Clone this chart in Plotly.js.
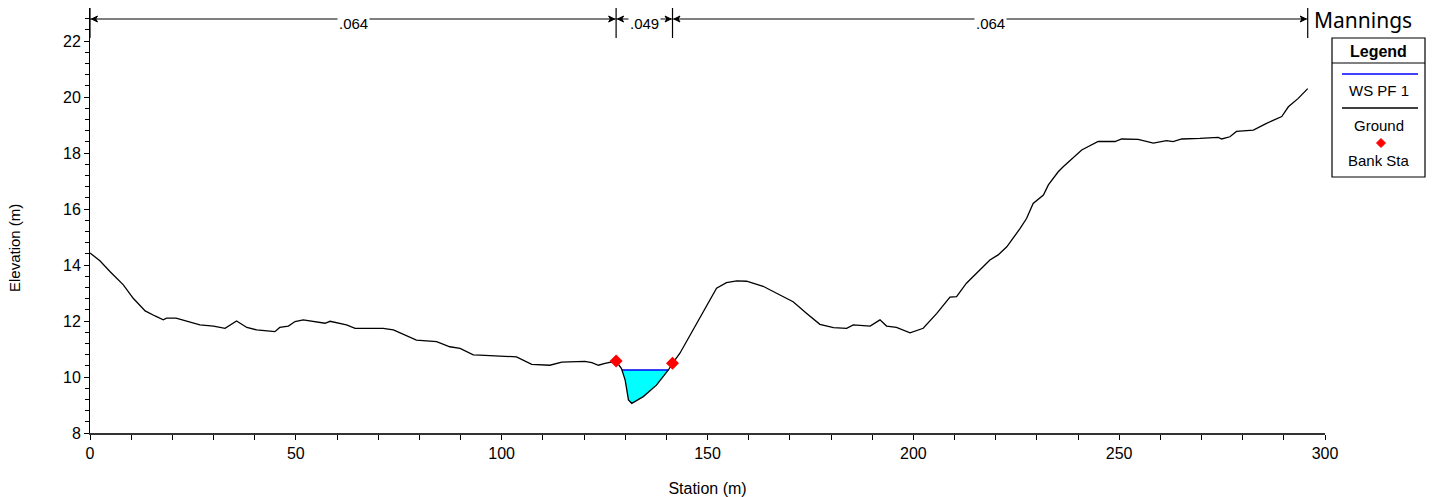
<!DOCTYPE html>
<html>
<head>
<meta charset="utf-8">
<script src="https://cdn.plot.ly/plotly-3.0.1.min.js"></script>
<style>html,body{margin:0;padding:0;background:#fff;}#chart{width:1442px;height:497px;}</style>
</head>
<body>
<div id="chart"></div>
<script>
// ---- data ----
const station = [0, 2.4, 4.9, 8.1, 10.5, 13.4, 15.8, 17.8, 18.6, 20.9, 26.7, 30.0, 32.8, 35.6, 38.1, 40.5, 44.9, 46.1, 48.2, 49.8, 51.8, 57.1, 58.3, 62.3, 64.4, 71.2, 73.7, 79.3, 84.2, 87.4, 89.9, 93.1, 94.7, 103.6, 107.3, 111.7, 114.6, 120.2, 121.9, 123.5, 125.1, 127.8, 129.1, 130.0, 130.8, 131.6, 134.4, 137.6, 140.5, 141.5, 143.3, 146.5, 149.8, 152.2, 154.6, 157.1, 159.5, 163.5, 167.6, 170.8, 174.1, 177.3, 180.6, 183.8, 185.4, 189.5, 191.9, 193.5, 195.9, 199.2, 202.4, 205.7, 208.9, 210.5, 212.9, 216.2, 218.6, 220.6, 222.7, 225.9, 227.5, 229.1, 231.6, 232.8, 235.2, 236.4, 240.9, 244.9, 249.0, 250.6, 254.6, 258.3, 261.5, 263.1, 265.2, 269.6, 274.1, 274.9, 276.9, 278.5, 282.6, 285.8, 289.5, 291.1, 293.5, 295.8];
const elevation = [14.43, 14.15, 13.76, 13.29, 12.81, 12.36, 12.18, 12.04, 12.10, 12.10, 11.86, 11.82, 11.74, 12.00, 11.77, 11.68, 11.62, 11.77, 11.82, 11.98, 12.04, 11.92, 11.99, 11.86, 11.74, 11.74, 11.68, 11.32, 11.26, 11.08, 11.02, 10.79, 10.78, 10.72, 10.45, 10.42, 10.53, 10.56, 10.51, 10.42, 10.49, 10.57, 10.30, 9.89, 9.18, 9.06, 9.30, 9.71, 10.25, 10.49, 10.85, 11.68, 12.51, 13.17, 13.37, 13.43, 13.42, 13.24, 12.93, 12.69, 12.27, 11.88, 11.76, 11.74, 11.86, 11.82, 12.04, 11.82, 11.77, 11.58, 11.74, 12.27, 12.85, 12.87, 13.35, 13.82, 14.18, 14.36, 14.65, 15.30, 15.66, 16.20, 16.50, 16.86, 17.33, 17.51, 18.11, 18.41, 18.41, 18.50, 18.49, 18.35, 18.44, 18.41, 18.50, 18.52, 18.56, 18.50, 18.58, 18.77, 18.82, 19.06, 19.30, 19.65, 19.95, 20.30];
const bankStation = [127.8, 141.5];
const bankElevation = [10.57, 10.49];
const wsElevation = 10.25;
const manningValues = [".064", ".049", ".064"];
const manningBreaks = [0, 127.8, 141.5, 295.8];
const xTickVals = [0, 50, 100, 150, 200, 250, 300];
const yTickVals = [8, 10, 12, 14, 16, 18, 20, 22];

// ---- water polygon from ground & WS ----
function interpX(i) {
  const x0 = station[i], x1 = station[i+1], y0 = elevation[i], y1 = elevation[i+1];
  return x0 + (wsElevation - y0) * (x1 - x0) / (y1 - y0);
}
const iL = station.findIndex(s => s >= bankStation[0]);
const iR = station.findIndex(s => s >= bankStation[1]);
let wx = [], wy = [];
let xLeft = null, xRight = null;
for (let i = iL; i < iR; i++) {
  const a = elevation[i] - wsElevation, b = elevation[i+1] - wsElevation;
  if (a > 0 && b <= 0 && xLeft === null) { xLeft = interpX(i); wx.push(xLeft); wy.push(wsElevation); }
  if (elevation[i+1] < wsElevation && xLeft !== null) { wx.push(station[i+1]); wy.push(elevation[i+1]); }
  if (a < 0 && b >= 0 && xLeft !== null) { xRight = (b === 0) ? station[i+1] : interpX(i); wx.push(xRight); wy.push(wsElevation); break; }
}
wx.push(xLeft); wy.push(wsElevation);

const traces = [
  {x: wx, y: wy, type: 'scatter', mode: 'lines', fill: 'toself', fillcolor: '#00FFFF', line: {width: 0, color: '#00FFFF'}, hoverinfo: 'skip', showlegend: false},
  {x: [xLeft, xRight], y: [wsElevation, wsElevation], type: 'scatter', mode: 'lines', name: 'WS PF 1', line: {color: '#0000FF', width: 1.6}, showlegend: false},
  {x: station, y: elevation, type: 'scatter', mode: 'lines', name: 'Ground', line: {color: '#000000', width: 1.3}, showlegend: false},
  {x: bankStation, y: bankElevation, type: 'scatter', mode: 'markers', name: 'Bank Sta', marker: {symbol: 'diamond', color: '#FF0000', size: 10}, showlegend: false, cliponaxis: false}
];

// ---- pixel helpers for decorations ----
const L = 90, R = 117, T = 8, B = 64, W = 1442, H = 497;
const PW = W - L - R, PH = H - T - B;
const PX = px => (px - L) / PW;
const PY = py => (H - B - py) / PH;
const pxToX = dpx => dpx * 300 / PW;

const font = 'Liberation Sans, Arial, sans-serif';
const shapes = [], annotations = [];

// Manning's bar
const barY = PY(19);
shapes.push({type: 'line', xref: 'x', yref: 'paper', x0: manningBreaks[0], x1: manningBreaks[3], y0: barY, y1: barY, line: {color: '#000', width: 1.2}});
manningBreaks.forEach(b => {
  shapes.push({type: 'line', xref: 'x', yref: 'paper', x0: b, x1: b, y0: PY(8), y1: PY(38), line: {color: '#000', width: 1.2}});
});
const ah = pxToX(6), av = 3 / PH, gap = pxToX(1.5);
for (let k = 0; k < manningValues.length; k++) {
  const a = manningBreaks[k] + gap, b = manningBreaks[k+1] - gap;
  shapes.push({type: 'path', xref: 'x', yref: 'paper', path: `M ${a} ${barY} L ${a+ah} ${barY+av} L ${a+ah*0.7} ${barY} L ${a+ah} ${barY-av} Z`, fillcolor: '#000', line: {color: '#000', width: 1}});
  shapes.push({type: 'path', xref: 'x', yref: 'paper', path: `M ${b} ${barY} L ${b-ah} ${barY+av} L ${b-ah*0.7} ${barY} L ${b-ah} ${barY-av} Z`, fillcolor: '#000', line: {color: '#000', width: 1}});
  annotations.push({xref: 'x', yref: 'paper', x: (manningBreaks[k] + manningBreaks[k+1]) / 2, y: PY(24), text: manningValues[k], showarrow: false, bgcolor: '#fff', borderpad: 1, font: {family: font, size: 15, color: '#000'}, xanchor: 'center', yanchor: 'middle'});
}
annotations.push({xref: 'paper', yref: 'paper', x: PX(1312), y: PY(20), text: 'Mannings', showarrow: false, xanchor: 'left', yanchor: 'middle', font: {family: 'Noto Sans, Open Sans, sans-serif', size: 21, color: '#000'}});

// Legend box
shapes.push({type: 'rect', xref: 'paper', yref: 'paper', x0: PX(1332), x1: PX(1425), y0: PY(177), y1: PY(38), line: {color: '#000', width: 1.2}, fillcolor: 'rgba(0,0,0,0)'});
shapes.push({type: 'line', xref: 'paper', yref: 'paper', x0: PX(1332), x1: PX(1425), y0: PY(63), y1: PY(63), line: {color: '#000', width: 1}});
shapes.push({type: 'line', xref: 'paper', yref: 'paper', x0: PX(1342), x1: PX(1418), y0: PY(74), y1: PY(74), line: {color: '#0000FF', width: 1.6}});
shapes.push({type: 'line', xref: 'paper', yref: 'paper', x0: PX(1342), x1: PX(1418), y0: PY(108), y1: PY(108), line: {color: '#000', width: 1.3}});
const dcx = 1381, dcy = 143, dr = 4.5;
shapes.push({type: 'path', xref: 'paper', yref: 'paper', path: `M ${PX(dcx-dr)} ${PY(dcy)} L ${PX(dcx)} ${PY(dcy-dr)} L ${PX(dcx+dr)} ${PY(dcy)} L ${PX(dcx)} ${PY(dcy+dr)} Z`, fillcolor: '#FF0000', line: {color: '#FF0000', width: 1}});
const lx = PX(1378.5);
annotations.push({xref: 'paper', yref: 'paper', x: lx, y: PY(51), text: '<b>Legend</b>', showarrow: false, xanchor: 'center', yanchor: 'middle', font: {family: font, size: 16, color: '#000'}});
annotations.push({xref: 'paper', yref: 'paper', x: lx, y: PY(90), text: 'WS PF 1', showarrow: false, xanchor: 'center', yanchor: 'middle', font: {family: font, size: 15, color: '#000'}});
annotations.push({xref: 'paper', yref: 'paper', x: lx, y: PY(126), text: 'Ground', showarrow: false, xanchor: 'center', yanchor: 'middle', font: {family: font, size: 15, color: '#000'}});
annotations.push({xref: 'paper', yref: 'paper', x: lx, y: PY(160), text: 'Bank Sta', showarrow: false, xanchor: 'center', yanchor: 'middle', font: {family: font, size: 15, color: '#000'}});

// Y axis title placed as in reference
annotations.push({xref: 'paper', yref: 'paper', x: PX(14), y: PY(248), text: 'Elevation (m)', textangle: -90, showarrow: false, xanchor: 'center', yanchor: 'middle', font: {family: font, size: 15, color: '#000'}});

const layout = {
  width: W, height: H,
  margin: {l: L, r: R, t: T, b: B, pad: 0},
  paper_bgcolor: '#fff', plot_bgcolor: '#fff',
  showlegend: false,
  xaxis: {
    range: [0, 300], tickvals: xTickVals, ticktext: xTickVals.map(String),
    showgrid: false, zeroline: false, showline: true, linecolor: '#333', linewidth: 2,
    ticks: 'outside', ticklen: 5, tickcolor: '#000', tickwidth: 1,
    minor: {dtick: 10, tick0: 0, ticks: 'outside', ticklen: 5, tickcolor: '#000', showgrid: false},
    tickfont: {family: font, size: 16, color: '#000'},
    title: {text: 'Station (m)', font: {family: font, size: 16, color: '#000'}, standoff: 22},
    automargin: false, fixedrange: true
  },
  yaxis: {
    range: [8, 8 + PH / 28], tickvals: yTickVals, ticktext: yTickVals.map(String),
    showgrid: false, zeroline: false, showline: true, linecolor: '#000', linewidth: 1,
    ticks: 'outside', ticklen: 5, tickcolor: '#000', tickwidth: 1,
    minor: {dtick: 0.4, tick0: 8, ticks: 'outside', ticklen: 4, tickcolor: '#000', showgrid: false},
    tickfont: {family: font, size: 16, color: '#000'},
    automargin: false, fixedrange: true
  },
  shapes: shapes,
  annotations: annotations
};

Plotly.newPlot('chart', traces, layout, {displayModeBar: false, staticPlot: true});
</script>
</body>
</html>
